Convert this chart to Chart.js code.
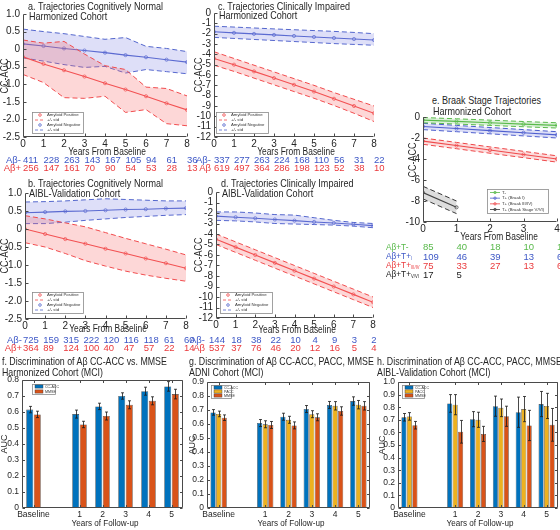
<!DOCTYPE html>
<html><head><meta charset="utf-8">
<script src="https://cdn.jsdelivr.net/npm/chart.js@4.4.0/dist/chart.umd.min.js"></script>
<style>
html,body{margin:0;padding:0;background:#fff;}
#fig{position:relative;width:560px;height:530px;overflow:hidden;background:#fff;font-family:"Liberation Sans",Arial,Helvetica,sans-serif;color:#222;}
#fig canvas{position:absolute;}
.tx{position:absolute;white-space:nowrap;line-height:1;}
.tx sub{font-size:50%;vertical-align:-1px;}
</style></head><body><div id="fig"></div>
<script>
// ======================= DATA =======================
const years = [0,1,2,3,4,5,6,7,8];

// a. Cognitively normal, harmonized cohort
const aNegMean = [0.15, 0.09, 0.02, -0.04, -0.10, -0.17, -0.23, -0.30, -0.37];
const aNegUp   = [0.57, 0.50, 0.44, 0.36, 0.28, 0.33, 0.08, 0.02, -0.07];
const aNegLo   = [-0.25, -0.34, -0.44, -0.52, -0.49, -0.68, -0.58, -0.64, -0.70];
const aPosMean = [-0.22, -0.42, -0.60, -0.78, -0.97, -1.15, -1.34, -1.54, -1.73];
const aPosUp   = [0.26, 0.17, 0.22, -0.14, -0.47, -0.58, -1.08, -1.12, -1.33];
const aPosLo   = [-0.72, -0.95, -1.38, -1.40, -1.34, -1.80, -1.72, -2.12, -2.18];
const aNegN = [411, 228, 263, 143, 167, 105, 94, 61, 36];
const aPosN = [256, 147, 161, 70, 90, 54, 53, 28, 13];

// b. Cognitively normal, AIBL validation cohort
const bNegMean = [0.45, 0.47, 0.49, 0.50, 0.52, 0.54, 0.55, 0.57, 0.58];
const bNegUp   = [0.75, 0.76, 0.78, 0.81, 0.84, 0.82, 0.80, 0.78, 0.78];
const bNegLo   = [0.15, 0.15, 0.19, 0.24, 0.28, 0.32, 0.35, 0.38, 0.40];
const bPosMean = [0.00, -0.14, -0.28, -0.41, -0.55, -0.68, -0.82, -0.95, -1.09];
const bPosUp   = [0.37, 0.28, 0.17, 0.06, -0.10, -0.26, -0.41, -0.56, -0.72];
const bPosLo   = [-0.38, -0.50, -0.68, -0.88, -1.03, -1.17, -1.28, -1.37, -1.45];
const bNegN = [725, 159, 315, 222, 120, 116, 118, 61, 60];
const bPosN = [364, 89, 124, 100, 40, 47, 57, 22, 14];

// c. Clinically impaired, harmonized cohort
const cNegMean = [-1.82, -1.92, -2.02, -2.12, -2.22, -2.32, -2.42, -2.52, -2.62];
const cNegUp   = [-1.28, -1.36, -1.45, -1.54, -1.62, -1.70, -1.78, -1.88, -2.00];
const cNegLo   = [-2.36, -2.46, -2.56, -2.66, -2.76, -2.86, -2.96, -3.04, -3.12];
const cPosMean = [-4.40, -5.00, -5.65, -6.30, -6.95, -7.60, -8.30, -9.00, -9.70];
const cPosUp   = [-3.75, -4.40, -5.05, -5.70, -6.35, -7.00, -7.70, -8.35, -9.00];
const cPosLo   = [-5.05, -5.65, -6.30, -6.95, -7.60, -8.25, -8.95, -9.70, -10.50];
const cNegN = [337, 277, 263, 224, 168, 110, 56, 31, 22];
const cPosN = [619, 497, 364, 286, 198, 123, 52, 38, 10];

// d. Clinically impaired, AIBL validation cohort
const dNegMean = [-2.30, -2.40, -2.50, -2.62, -2.73, -2.85, -2.95, -3.07, -3.20];
const dNegUp   = [-1.90, -1.90, -2.00, -2.15, -2.20, -2.45, -2.70, -2.90, -3.00];
const dNegLo   = [-2.70, -2.75, -2.85, -3.00, -3.05, -3.10, -3.15, -3.25, -3.40];
const dPosMean = [-4.50, -5.25, -6.00, -6.75, -7.50, -8.25, -9.00, -9.75, -10.50];
const dPosUp   = [-4.00, -4.75, -5.50, -6.25, -7.00, -7.75, -8.50, -9.25, -10.00];
const dPosLo   = [-5.00, -5.75, -6.50, -7.25, -8.00, -8.75, -9.50, -10.25, -11.00];
const dNegN = [144, 18, 38, 22, 10, 4, 9, 3, 2];
const dPosN = [537, 37, 76, 46, 20, 12, 16, 5, 4];

// e. Braak stage trajectories
const eYears = [0, 1, 2, 3, 4];
const eYearsVVI = [0, 1];
const eTnegMean = [-0.30, -0.42, -0.55, -0.68, -0.80];
const eTnegUp   = [-0.05, -0.17, -0.30, -0.43, -0.55];
const eTnegLo   = [-0.55, -0.67, -0.80, -0.93, -1.05];
const eT1Mean = [-0.90, -1.10, -1.30, -1.50, -1.70];
const eT1Up   = [-0.60, -0.80, -1.00, -1.20, -1.40];
const eT1Lo   = [-1.20, -1.40, -1.60, -1.80, -2.00];
const eT34Mean = [-2.30, -2.72, -3.15, -3.57, -4.00];
const eT34Up   = [-2.00, -2.42, -2.85, -3.27, -3.70];
const eT34Lo   = [-2.60, -3.02, -3.45, -3.87, -4.30];
const eT56Mean = [-7.20, -8.60];
const eT56Up   = [-6.60, -8.00];
const eT56Lo   = [-7.80, -9.20];
const eTnegN = [85, 40, 18, 10, 1];
const eT1N   = [109, 46, 39, 13, 6];
const eT34N  = [75, 33, 27, 13, 6];
const eT56N  = [17, 5];

// f-h. AUC bars
const barCats = ['Baseline', '1', '2', '3', '4', '5'];
const fCC      = [0.615, 0.587, 0.635, 0.700, 0.730, 0.760];
const fCCErr   = [0.020, 0.025, 0.020, 0.020, 0.025, 0.030];
const fMMSE    = [0.585, 0.522, 0.575, 0.645, 0.670, 0.712];
const fMMSEErr = [0.020, 0.020, 0.025, 0.025, 0.025, 0.030];
const gCC      = [0.683, 0.607, 0.652, 0.707, 0.736, 0.764];
const gCCErr   = [0.020, 0.025, 0.025, 0.025, 0.025, 0.030];
const gPACC    = [0.672, 0.598, 0.630, 0.670, 0.730, 0.738];
const gPACCErr = [0.020, 0.025, 0.025, 0.025, 0.030, 0.030];
const gMMSE    = [0.645, 0.593, 0.590, 0.648, 0.693, 0.730];
const gMMSEErr = [0.020, 0.025, 0.025, 0.025, 0.030, 0.030];
const hCC      = [0.720, 0.830, 0.705, 0.808, 0.760, 0.825];
const hCCErr   = [0.030, 0.070, 0.060, 0.080, 0.120, 0.100];
const hPACC    = [0.727, 0.820, 0.700, 0.795, 0.785, 0.810];
const hPACCErr = [0.030, 0.080, 0.060, 0.070, 0.100, 0.100];
const hMMSE    = [0.657, 0.605, 0.588, 0.728, 0.655, 0.660];
const hMMSEErr = [0.030, 0.090, 0.060, 0.080, 0.120, 0.130];

// ======================= RENDERING =======================
const FONT = '"Liberation Sans", Arial, Helvetica, sans-serif';
Chart.defaults.font.family = FONT;
const fig = document.getElementById('fig');
const M = {yw: 34, pt: 10, pr: 10, xh: 16};
const TXT = '#262626';
const BLUE = '#5366cc', BLUEF = 'rgba(115,120,225,0.24)';
const RED = '#f14a4c', REDF = 'rgba(246,100,100,0.26)';
const CBLUE = '#3d57c6', CRED = '#ea3a3d', CGREEN = '#58b94a';
const BAR_CC = '#0072BD', BAR_PACC = '#EDB120', BAR_MMSE = '#D95319';

function addText(html, x, y, o = {}) {
  const d = document.createElement('div');
  d.className = 'tx'; d.innerHTML = html;
  const ax = o.ax ?? 0, sx = o.sx ?? 1, rot = o.rot ?? 0;
  d.style.left = x + 'px'; d.style.top = y + 'px';
  d.style.fontSize = (o.size || 10) + 'px';
  d.style.color = o.color || TXT;
  d.style.transformOrigin = (ax * 100) + '% 50%';
  d.style.transform = `translate(${-ax * 100}%,-50%) rotate(${rot}deg) scaleX(${sx})`;
  fig.appendChild(d);
  return d;
}

const frame = {
  id: 'frame',
  afterDraw(chart, args, o) {
    const {ctx, chartArea: ca} = chart;
    const xs = chart.scales.x, ys = chart.scales.y;
    ctx.save();
    ctx.strokeStyle = '#4a4a4a'; ctx.lineWidth = 1;
    const L = Math.round(ca.left) + 0.5, R = Math.round(ca.right) - 0.5;
    const T = Math.round(ca.top) + 0.5, B = Math.round(ca.bottom) - 0.5;
    ctx.beginPath();
    ctx.moveTo(L, T); ctx.lineTo(L, B); ctx.lineTo(R, B);
    if (o.box) { ctx.lineTo(R, T); ctx.lineTo(L, T); }
    const tl = o.tick || 3;
    xs.ticks.forEach((t, i) => {
      if (xs.type === 'category' && !t.label) return;
      const px = Math.round(xs.getPixelForTick(i)) + 0.5;
      ctx.moveTo(px, B); ctx.lineTo(px, B - tl);
      if (o.box) { ctx.moveTo(px, T); ctx.lineTo(px, T + tl); }
    });
    ys.ticks.forEach((t, i) => {
      const py = Math.round(ys.getPixelForTick(i)) + 0.5;
      ctx.moveTo(L, py); ctx.lineTo(L + tl, py);
      if (o.box) { ctx.moveTo(R, py); ctx.lineTo(R - tl, py); }
    });
    ctx.stroke();
    ctx.restore();
  }
};

const tlegend = {
  id: 'tlegend',
  afterDraw(chart, args, o) {
    if (!o || !o.items) return;
    const ctx = chart.ctx, ca = chart.chartArea;
    const x = Math.round(ca.left + o.dx), y = Math.round(o.fromTop ? ca.top + o.dy : ca.bottom - o.dy - o.h);
    ctx.save();
    ctx.fillStyle = '#fff'; ctx.fillRect(x, y, o.w, o.h);
    ctx.strokeStyle = '#8a8a8a'; ctx.lineWidth = 0.8; ctx.strokeRect(x + 0.5, y + 0.5, o.w, o.h);
    ctx.font = (o.fs || 4.5) + 'px ' + FONT; ctx.textBaseline = 'middle'; ctx.textAlign = 'left';
    const n = o.items.length;
    o.items.forEach((it, i) => {
      const yy = y + o.pad + i * (o.h - 2 * o.pad) / Math.max(1, n - 1);
      const x1 = x + 3, x2 = x + 3 + o.iw, xm = (x1 + x2) / 2;
      ctx.strokeStyle = it.color; ctx.fillStyle = it.color; ctx.lineWidth = 0.8;
      if (it.type === 'marker') {
        ctx.beginPath(); ctx.arc(xm, yy, 1.3, 0, 2 * Math.PI); ctx.stroke();
      } else if (it.type === 'dash') {
        ctx.setLineDash([3, 2]); ctx.beginPath(); ctx.moveTo(x1, yy); ctx.lineTo(x2, yy); ctx.stroke(); ctx.setLineDash([]);
      } else if (it.type === 'lm') {
        ctx.beginPath(); ctx.moveTo(x1, yy); ctx.lineTo(x2, yy); ctx.stroke();
        ctx.beginPath(); ctx.arc(xm, yy, 1.2, 0, 2 * Math.PI); ctx.stroke();
      } else if (it.type === 'swatch') {
        ctx.fillRect(x1, yy - 1.6, o.iw, 3.2);
        ctx.strokeStyle = '#333'; ctx.lineWidth = 0.4; ctx.strokeRect(x1, yy - 1.6, o.iw, 3.2);
      }
      ctx.fillStyle = '#333';
      ctx.fillText(it.label, x2 + 2, yy);
    });
    ctx.restore();
  }
};

const errBars = {
  id: 'errBars',
  afterDatasetsDraw(chart) {
    const ctx = chart.ctx, ys = chart.scales.y;
    ctx.save();
    ctx.strokeStyle = '#1a1a1a'; ctx.lineWidth = 0.8;
    chart.data.datasets.forEach((ds, i) => {
      if (!ds.errors) return;
      const meta = chart.getDatasetMeta(i);
      meta.data.forEach((el, j) => {
        const v = ds.data[j], e = ds.errors[j];
        if (v == null || e == null) return;
        const x = Math.round(el.x) + 0.5;
        const y1 = ys.getPixelForValue(v + e), y2 = ys.getPixelForValue(v - e);
        ctx.beginPath();
        ctx.moveTo(x, y1); ctx.lineTo(x, y2);
        ctx.moveTo(x - 1.5, y1); ctx.lineTo(x + 1.5, y1);
        ctx.moveTo(x - 1.5, y2); ctx.lineTo(x + 1.5, y2);
        ctx.stroke();
      });
    });
    ctx.restore();
  }
};

function axisX(min, max, step, size) {
  return {type: 'linear', position: 'bottom', min, max,
    grid: {display: false, drawTicks: false, tickLength: 0}, border: {display: false},
    ticks: {stepSize: step, autoSkip: false, maxRotation: 0, padding: 1, color: TXT, font: {size}},
    afterFit: s => { s.height = M.xh; }};
}
function axisY(min, max, step, size) {
  return {type: 'linear', position: 'left', min, max,
    grid: {display: false, drawTicks: false, tickLength: 0}, border: {display: false},
    ticks: {stepSize: step, autoSkip: false, padding: 3, color: TXT, font: {size}},
    afterFit: s => { s.width = M.yw; }};
}

function mkChart(area, cfg) {
  const W = area.x1 - area.x0 + M.yw + M.pr, H = area.y1 - area.y0 + M.pt + M.xh;
  const cv = document.createElement('canvas');
  cv.width = W; cv.height = H;
  const ox = area.x0 - M.yw, oy = area.y0 - M.pt;
  cv.style.left = ox + 'px'; cv.style.top = oy + 'px';
  cv.style.width = W + 'px'; cv.style.height = H + 'px';
  fig.appendChild(cv);
  cfg.options = Object.assign({responsive: false, animation: false, devicePixelRatio: 1,
    layout: {padding: {left: 0, top: M.pt, right: M.pr, bottom: 0}}}, cfg.options);
  const ch = new Chart(cv.getContext('2d'), cfg);
  ch._ox = ox; ch._oy = oy;
  return ch;
}

const pts = (xs, ys) => xs.map((x, i) => ({x, y: ys[i]}));

function bandSets(xs, g) {
  return [
    {data: pts(xs, g.up), borderColor: g.color, borderWidth: 1, borderDash: [5, 3], pointRadius: 0, fill: '+1', backgroundColor: g.fill, tension: 0},
    {data: pts(xs, g.lo), borderColor: g.color, borderWidth: 1, borderDash: [5, 3], pointRadius: 0, fill: false, tension: 0},
    {data: pts(xs, g.mean), borderColor: g.color, borderWidth: 1.1, pointRadius: 1.6, pointBorderWidth: 0.7,
      pointBorderColor: g.color, pointBackgroundColor: 'rgba(0,0,0,0)', fill: false, tension: 0}
  ];
}

const trajItems = [
  {type: 'marker', color: RED, label: 'Amyloid Positive'},
  {type: 'dash', color: RED, label: '+/- std'},
  {type: 'marker', color: BLUE, label: 'Amyloid Negative'},
  {type: 'dash', color: BLUE, label: '+/- std'}
];

function trajPanel(p) {
  const ds = [
    ...bandSets(years, {mean: p.posMean, up: p.posUp, lo: p.posLo, color: RED, fill: REDF}),
    ...bandSets(years, {mean: p.negMean, up: p.negUp, lo: p.negLo, color: BLUE, fill: BLUEF})
  ];
  const ch = mkChart(p.area, {type: 'line', data: {datasets: ds}, options: {
    scales: {x: axisX(0, 8, 1, 10), y: axisY(p.ymin, p.ymax, p.ystep, 10)},
    plugins: {legend: {display: false}, tooltip: {enabled: false}, frame: {box: false, tick: 3},
      tlegend: Object.assign({items: trajItems, fs: 4.3, pad: 3, iw: 10}, p.legend)}
  }, plugins: [frame, tlegend]});
  addText(p.title[0], p.titleX, p.titleY[0], {size: 10.5, sx: 0.86});
  addText(p.title[1], p.titleX + 1, p.titleY[1], {size: 10.5, sx: 0.86});
  const cx = (p.area.x0 + p.area.x1) / 2, cy = (p.area.y0 + p.area.y1) / 2;
  addText('Years From Baseline', cx + 2, p.xlabY, {ax: 0.5, size: 10, sx: 0.84});
  addText('CC-ACC', p.ylabX, cy, {ax: 0.5, size: 10, sx: 0.9, rot: -90});
  const sc = ch.scales.x;
  p.rows.forEach(r => {
    addText(r.label, ch._ox + ch.chartArea.left - p.lgap, r.y, {ax: 1, size: 9.5, color: r.color});
    r.n.forEach((v, i) => addText(String(v), ch._ox + sc.getPixelForValue(years[i]) + p.numOff, r.y,
      {ax: p.numAx, size: 9.5, color: r.color}));
  });
  return ch;
}

// ---- a ----
trajPanel({area: {x0: 23, x1: 187, y0: 14, y1: 137}, ymin: -2.5, ymax: 1, ystep: 0.5,
  negMean: aNegMean, negUp: aNegUp, negLo: aNegLo, posMean: aPosMean, posUp: aPosUp, posLo: aPosLo,
  legend: {dx: 9, dy: 4, w: 51, h: 21},
  title: ['a. Trajectories Cognitively Normal', 'Harmonized Cohort'], titleX: 28, titleY: [6, 16],
  xlabY: 152, ylabX: 5, numAx: 0, numOff: 0, lgap: 2,
  rows: [{label: 'Aβ-', n: aNegN, color: CBLUE, y: 160}, {label: 'Aβ+', n: aPosN, color: CRED, y: 168}]});

// ---- b ----
trajPanel({area: {x0: 25, x1: 186, y0: 193, y1: 319}, ymin: -2.5, ymax: 1, ystep: 0.5,
  negMean: bNegMean, negUp: bNegUp, negLo: bNegLo, posMean: bPosMean, posUp: bPosUp, posLo: bPosLo,
  legend: {dx: 7, dy: 6, w: 51, h: 21},
  title: ['b. Trajectories Cognitively Normal', 'AIBL-Validation Cohort'], titleX: 28, titleY: [183, 193],
  xlabY: 329, ylabX: 5, numAx: 0, numOff: -2, lgap: 3,
  rows: [{label: 'Aβ-', n: bNegN, color: CBLUE, y: 340}, {label: 'Aβ+', n: bPosN, color: CRED, y: 348}]});

// ---- c ----
trajPanel({area: {x0: 214, x1: 374, y0: 13, y1: 137}, ymin: -12, ymax: 0, ystep: 1,
  negMean: cNegMean, negUp: cNegUp, negLo: cNegLo, posMean: cPosMean, posUp: cPosUp, posLo: cPosLo,
  legend: {dx: 2, dy: 4, w: 52, h: 21},
  title: ['c. Trajectories Clinically Impaired', 'Harmonized Cohort'], titleX: 218, titleY: [6, 15],
  xlabY: 152, ylabX: 199, numAx: 0, numOff: 0, lgap: 3,
  rows: [{label: 'Aβ-', n: cNegN, color: CBLUE, y: 160}, {label: 'Aβ', n: cPosN, color: CRED, y: 168}]});

// ---- d ----
trajPanel({area: {x0: 216, x1: 373, y0: 192, y1: 318}, ymin: -12, ymax: 0, ystep: 1,
  negMean: dNegMean, negUp: dNegUp, negLo: dNegLo, posMean: dPosMean, posUp: dPosUp, posLo: dPosLo,
  legend: {dx: 4, dy: 5, w: 52, h: 21},
  title: ['d. Trajectories Clinically Impaired', 'AIBL-Validation Cohort'], titleX: 221, titleY: [183, 193],
  xlabY: 330, ylabX: 199, numAx: 0.5, numOff: 1, lgap: 11,
  rows: [{label: 'Aβ-', n: dNegN, color: CBLUE, y: 340}, {label: 'Aβ', n: dPosN, color: CRED, y: 348}]});

// ---- e ----
(function () {
  const G = {color: CGREEN, fill: 'rgba(95,190,80,0.22)'};
  const B = {color: '#4a5ccc', fill: 'rgba(100,110,220,0.22)'};
  const R = {color: '#ee4446', fill: 'rgba(240,95,95,0.22)'};
  const K = {color: '#333333', fill: 'rgba(120,120,120,0.25)'};
  const ds = [
    ...bandSets(eYears, Object.assign({mean: eTnegMean, up: eTnegUp, lo: eTnegLo}, G)),
    ...bandSets(eYears, Object.assign({mean: eT1Mean, up: eT1Up, lo: eT1Lo}, B)),
    ...bandSets(eYears, Object.assign({mean: eT34Mean, up: eT34Up, lo: eT34Lo}, R)),
    ...bandSets(eYearsVVI, Object.assign({mean: eT56Mean, up: eT56Up, lo: eT56Lo}, K))
  ];
  const area = {x0: 423, x1: 557, y0: 117, y1: 222};
  const ch = mkChart(area, {type: 'line', data: {datasets: ds}, options: {
    scales: {x: axisX(0, 4, 1, 10), y: axisY(-10, 0, 2, 10)},
    plugins: {legend: {display: false}, tooltip: {enabled: false}, frame: {box: false, tick: 3},
      tlegend: {dx: 64, dy: 9, w: 61, h: 24, fs: 4.3, pad: 3.5, iw: 10, items: [
        {type: 'lm', color: G.color, label: 'T-'},
        {type: 'lm', color: B.color, label: 'T+ (Braak I)'},
        {type: 'lm', color: R.color, label: 'T+ (Braak III/IV)'},
        {type: 'lm', color: K.color, label: 'T+ (Braak Stage V/VI)'}]}}
  }, plugins: [frame, tlegend]});
  addText('e. Braak Stage Trajectories', 432, 100, {size: 10.5, sx: 0.86});
  addText('Harmonized Cohort', 433, 111, {size: 10.5, sx: 0.86});
  addText('Years From Baseline', 499, 237, {ax: 0.5, size: 10, sx: 0.84});
  addText('CC-ACC', 413, 160, {ax: 0.5, size: 10, sx: 0.9, rot: -90});
  const sc = ch.scales.x;
  const rows = [
    {label: 'Aβ+T-', n: eTnegN, color: CGREEN, y: 247},
    {label: 'Aβ+T+<sub>I</sub>', n: eT1N, color: CBLUE, y: 257},
    {label: 'Aβ+T+<sub>III/IV</sub>', n: eT34N, color: CRED, y: 266},
    {label: 'Aβ+T+<sub>V/VI</sub>', n: eT56N, color: '#222', y: 275}];
  rows.forEach(r => {
    addText(r.label, 386, r.y, {size: 9, sx: 0.92, color: r.color});
    r.n.forEach((v, i) => addText(String(v), ch._ox + sc.getPixelForValue(eYears[i]), r.y, {size: 9.5, color: r.color}));
  });
})();

// ---- bars ----
function barPanel(p) {
  const labels = [barCats[0], ''].concat(barCats.slice(1));
  const gap = arr => [arr[0], null].concat(arr.slice(1));
  const ds = p.series.map(s => ({data: gap(s.v), errors: gap(s.e), backgroundColor: s.color,
    borderColor: '#3a3a3a', borderWidth: 0.6, categoryPercentage: p.cat, barPercentage: 0.92}));
  const xAx = {type: 'category', position: 'bottom', offset: true,
    grid: {display: false, drawTicks: false, tickLength: 0}, border: {display: false},
    ticks: {autoSkip: false, maxRotation: 0, padding: 2, color: TXT, font: {size: 8.5}},
    afterFit: s => { s.height = M.xh; }};
  const ch = mkChart(p.area, {type: 'bar', data: {labels, datasets: ds}, options: {
    scales: {x: xAx, y: axisY(0, p.ymax, 0.1, 8.5)},
    plugins: {legend: {display: false}, tooltip: {enabled: false}, frame: {box: true, tick: 2.5},
      tlegend: {fromTop: true, dx: p.lg.dx, dy: p.lg.dy, w: p.lg.w, h: p.lg.h, fs: 3.6, pad: 2.5, iw: 8,
        items: p.series.map(s => ({type: 'swatch', color: s.color, label: s.name}))}}
  }, plugins: [errBars, frame, tlegend]});
  addText(p.title[0], p.titleX, 361, {size: 10.5, sx: 0.84});
  addText(p.title[1], p.titleX, 372, {size: 10.5, sx: 0.84});
  addText('Years of Follow-up', (p.area.x0 + p.area.x1) / 2 + 2, 523, {ax: 0.5, size: 9, sx: 0.9});
  addText('AUC', p.ylabX, (p.area.y0 + p.area.y1) / 2, {ax: 0.5, size: 9, rot: -90});
  return ch;
}

barPanel({area: {x0: 22, x1: 183, y0: 380, y1: 508}, ymax: 0.8, cat: 0.66,
  series: [{name: 'CC-ACC', v: fCC, e: fCCErr, color: BAR_CC}, {name: 'MMSE', v: fMMSE, e: fMMSEErr, color: BAR_MMSE}],
  lg: {dx: 10, dy: 4, w: 23, h: 10},
  title: ['f. Discrimination of Aβ CC-ACC vs. MMSE', 'Harmonized Cohort (MCI)'], titleX: 2, ylabX: 4});

barPanel({area: {x0: 207, x1: 370, y0: 382, y1: 508}, ymax: 0.9, cat: 0.72,
  series: [{name: 'CC-ACC', v: gCC, e: gCCErr, color: BAR_CC}, {name: 'PACC', v: gPACC, e: gPACCErr, color: BAR_PACC},
    {name: 'MMSE', v: gMMSE, e: gMMSEErr, color: BAR_MMSE}],
  lg: {dx: 4, dy: 3, w: 20, h: 13},
  title: ['g. Discrimination of Aβ CC-ACC, PACC, MMSE', 'ADNI Cohort (MCI)'], titleX: 189, ylabX: 192});

barPanel({area: {x0: 398, x1: 558, y0: 382, y1: 508}, ymax: 1, cat: 0.72,
  series: [{name: 'CC-ACC', v: hCC, e: hCCErr, color: BAR_CC}, {name: 'PACC', v: hPACC, e: hPACCErr, color: BAR_PACC},
    {name: 'MMSE', v: hMMSE, e: hMMSEErr, color: BAR_MMSE}],
  lg: {dx: 4, dy: 3, w: 22, h: 13},
  title: ['h. Discrimination of Aβ CC-ACC, PACC, MMSE', 'AIBL-Validation Cohort (MCI)'], titleX: 377, ylabX: 382});
</script></body></html>
